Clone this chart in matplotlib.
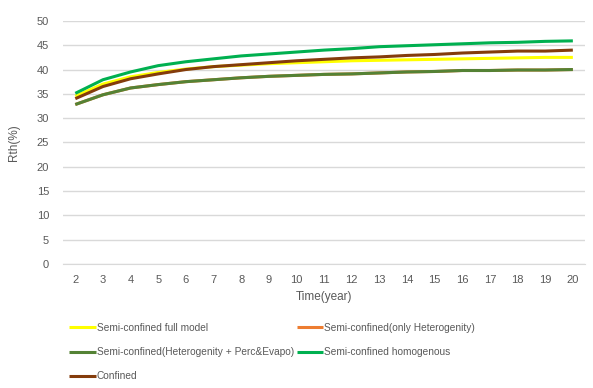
import matplotlib.pyplot as plt

# Rth (%) over time for the different aquifer set-ups
years = list(range(2, 21))

full_model = [34.5, 37.0, 38.5, 39.4, 40.1, 40.6, 40.9, 41.2, 41.4, 41.6,
              41.8, 41.9, 42.0, 42.1, 42.2, 42.3, 42.4, 42.5, 42.5]
only_hetero = [32.8, 34.8, 36.2, 36.9, 37.5, 37.9, 38.3, 38.6, 38.8, 39.0,
               39.1, 39.3, 39.5, 39.6, 39.8, 39.8, 39.9, 39.9, 40.0]
hetero_perc = [32.8, 34.8, 36.2, 36.9, 37.5, 37.9, 38.3, 38.6, 38.8, 39.0,
               39.1, 39.3, 39.5, 39.6, 39.8, 39.8, 39.9, 39.9, 40.0]
homogenous = [35.1, 37.9, 39.5, 40.8, 41.6, 42.2, 42.8, 43.2, 43.6, 44.0,
              44.3, 44.7, 44.9, 45.1, 45.3, 45.5, 45.6, 45.8, 45.9]
confined = [34.0, 36.5, 38.1, 39.1, 40.0, 40.6, 41.0, 41.4, 41.8, 42.1,
            42.4, 42.6, 42.9, 43.1, 43.4, 43.6, 43.8, 43.8, 44.0]

labels = ['Semi-confined full model', 'Semi-confined(only Heterogenity)',
          'Semi-confined(Heterogenity + Perc&Evapo)', 'Semi-confined homogenous',
          'Confined']
colors = ['#FFFF00', '#ED7D31', '#548235', '#00B050', '#843C0C']

plt.rcParams['font.family'] = ['Liberation Sans', 'DejaVu Sans']
txt = '#595959'

fig = plt.figure(figsize=(5.93, 3.88), dpi=100)
ax = fig.add_axes([0.106, 0.320, 0.881, 0.626])

lines = []
for vals, lab, col in zip([full_model, only_hetero, hetero_perc, homogenous, confined],
                          labels, colors):
    ln, = ax.plot(years, vals, color=col, linewidth=2.2, label=lab,
                  solid_capstyle='butt')
    lines.append(ln)

ax.set_xlim(1.55, 20.45)
ax.set_ylim(0, 50)
ax.set_xticks(years)
ax.set_yticks(range(0, 51, 5))
ax.grid(axis='y', color='#d9d9d9', linewidth=1)
ax.set_axisbelow(True)
for s in ['top', 'right', 'left']:
    ax.spines[s].set_visible(False)
ax.spines['bottom'].set_color('#d9d9d9')
ax.tick_params(length=0, labelsize=8, colors=txt)
ax.tick_params(axis='y', pad=10)
ax.tick_params(axis='x', pad=8)

ax.set_xlabel('Time(year)', fontsize=8.5, color=txt, labelpad=4)
ax.set_ylabel('Rth(%)', fontsize=8.5, color=txt, labelpad=12)

# Excel fills legend row-wise, matplotlib column-wise
order = [0, 2, 4, 1, 3]
fig.legend([lines[i] for i in order], [labels[i] for i in order],
           ncol=2, loc='upper left', bbox_to_anchor=(0.11, 0.178),
           frameon=False, fontsize=7.3, handlelength=2.6, handletextpad=0.1,
           columnspacing=0.3, labelspacing=1.4, borderaxespad=0,
           labelcolor=txt)

fig.savefig('out.png', dpi=100)
